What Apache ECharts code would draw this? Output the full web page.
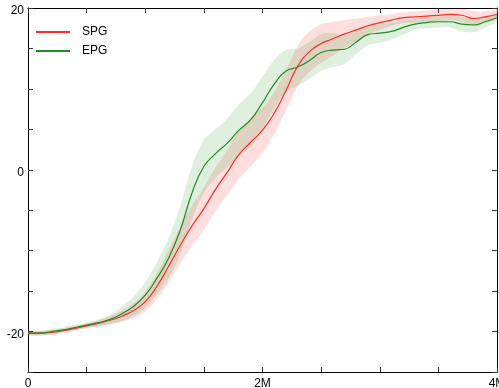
<!DOCTYPE html>
<html>
<head>
<meta charset="utf-8">
<script src="https://cdn.jsdelivr.net/npm/echarts@6/dist/echarts.min.js"></script>
<style>html,body{margin:0;padding:0;background:#fff}#c{width:499px;height:388px}</style>
</head>
<body>
<div id="c"></div>
<script>
const steps = [0,0.1,0.2,0.3,0.4,0.5,0.6,0.7,0.8,0.9,1.0,1.1,1.2,1.3,1.4,1.5,1.6,1.7,1.8,1.9,2.0,2.1,2.2,2.3,2.4,2.5,2.6,2.7,2.8,2.9,3.0,3.1,3.2,3.3,3.4,3.5,3.6,3.7,3.8,3.9,4.0];
const spgMean = [-20.2,-20.2,-20.1,-19.9,-19.6,-19.3,-19.0,-18.6,-18.1,-17.4,-16.3,-14.4,-11.9,-9.3,-6.9,-4.8,-2.4,-0.3,1.9,3.4,4.9,7.0,9.8,12.8,14.6,15.6,16.2,16.8,17.3,17.8,18.2,18.5,18.8,18.9,19.0,19.1,19.2,19.1,18.7,18.9,19.2];
const spgStd  = [0.3,0.3,0.3,0.3,0.3,0.3,0.4,0.5,0.7,0.9,1.2,1.6,2.0,2.3,2.5,2.6,2.7,2.8,3.0,3.0,2.8,2.6,2.5,2.5,2.5,2.4,2.1,1.7,1.4,1.1,0.9,0.7,0.7,0.7,0.7,0.7,0.7,0.8,0.9,0.7,0.5];
const epgMean = [-20.2,-20.2,-20.0,-19.8,-19.5,-19.2,-18.9,-18.5,-17.8,-16.9,-15.5,-13.4,-10.9,-7.4,-2.8,0.4,2.0,3.3,4.9,6.2,8.3,10.6,12.2,12.7,13.5,14.5,14.8,14.9,15.8,16.7,16.9,17.1,17.6,18.0,18.2,18.3,18.3,18.0,17.9,18.3,18.8];
const epgStd  = [0.3,0.3,0.3,0.3,0.3,0.3,0.4,0.6,0.9,1.2,1.6,2.0,2.5,3.0,3.3,3.3,3.0,3.0,3.2,3.3,3.2,3.0,2.6,2.3,2.3,2.3,2.1,1.8,1.5,1.3,1.2,1.0,0.9,0.7,0.7,0.7,0.7,0.9,0.9,0.7,0.5];
const xTickLabels = {0:'0', 2000000:'2M', 4000000:'4M'};
const yTickLabels = {'-20':'-20', '0':'0', '20':'20'};

const M = 1e6;
const pts = (arr) => steps.map((s,i) => [s*M, arr[i]]);

const redLine = '#ff2b2b', greenLine = '#228b22';
const redBand = 'rgba(255,0,0,0.13)', greenBand = 'rgba(0,128,0,0.13)';
const font = 'Liberation Sans, Arial, sans-serif';

function band(name, m, s, color) {
  const rows = steps.map((x,i) => [x*M, m[i]-s[i], m[i]+s[i]]);
  return {
    type:'custom', name: name+'_band', silent:true, z:1,
    data: rows,
    encode:{x:0, y:[1,2]},
    renderItem: function(params, api) {
      if (params.dataIndex !== 0) return null;
      const up = [], lo = [];
      for (let i = 0; i < rows.length; i++) {
        up.push(api.coord([rows[i][0], rows[i][2]]));
        lo.push(api.coord([rows[i][0], rows[i][1]]));
      }
      const cs = params.coordSys;
      return {
        type:'group',
        children:[
          {type:'polyline', shape:{points: up.concat(lo.slice().reverse()), smooth:0.35},
           style:{fill: color, stroke:null, lineWidth:0}},
        ],
        clipPath:{type:'rect', shape:{x:cs.x, y:cs.y, width:cs.width, height:cs.height}}
      };
    }
  };
}

const axisCommon = {
  axisLine:{show:true, onZero:false, lineStyle:{color:'#000', width:1}},
  axisTick:{show:true, inside:true, length:5, lineStyle:{color:'#333'}},
  splitLine:{show:false}
};

const chart = echarts.init(document.getElementById('c'));
chart.setOption({
  animation:false,
  backgroundColor:'#fff',
  grid:{left:28, right:2, top:8, bottom:16, containLabel:false, outerBoundsMode:'none'},
  legend:{
    data:[{name:'SPG', icon:'rect'},{name:'EPG', icon:'rect'}], left:31, top:20, orient:'vertical',
    itemWidth:34, itemHeight:2, itemGap:5,
    textStyle:{fontFamily:font, fontSize:12, color:'#000', padding:[0,0,0,7], lineHeight:14}
  },
  xAxis:[
    Object.assign({type:'value', min:0, max:4*M, interval:0.5*M, position:'bottom',
      axisLabel:{show:true, fontFamily:font, fontSize:12, color:'#000', margin:6,
        formatter:(v)=> xTickLabels[v] !== undefined ? xTickLabels[v] : ''}}, axisCommon),
    Object.assign({type:'value', min:0, max:4*M, interval:0.5*M, position:'top',
      axisLabel:{show:false}}, axisCommon)
  ],
  yAxis:[
    Object.assign({type:'value', min:-25, max:20, interval:5, position:'left',
      axisLabel:{show:true, fontFamily:font, fontSize:12, color:'#000', margin:4,
        formatter:(v)=> yTickLabels[String(v)] !== undefined ? '{a|' + yTickLabels[String(v)] + '}' : '',
        rich:{a:{fontFamily:font, fontSize:12, color:'#000', padding:[6,0,0,0]}}}}, axisCommon),
    Object.assign({type:'value', min:-25, max:20, interval:5, position:'right',
      axisLabel:{show:false}}, axisCommon)
  ],
  series:[
    band('SPG', spgMean, spgStd, redBand),
    band('EPG', epgMean, epgStd, greenBand),
    {type:'line', name:'SPG', data: pts(spgMean), smooth:0.5, symbol:'none', z:3,
     lineStyle:{color:redLine, width:1.2}, itemStyle:{color:redLine}},
    {type:'line', name:'EPG', data: pts(epgMean), smooth:0.5, symbol:'none', z:3,
     lineStyle:{color:greenLine, width:1.2}, itemStyle:{color:greenLine}}
  ]
});
</script>
</body>
</html>
